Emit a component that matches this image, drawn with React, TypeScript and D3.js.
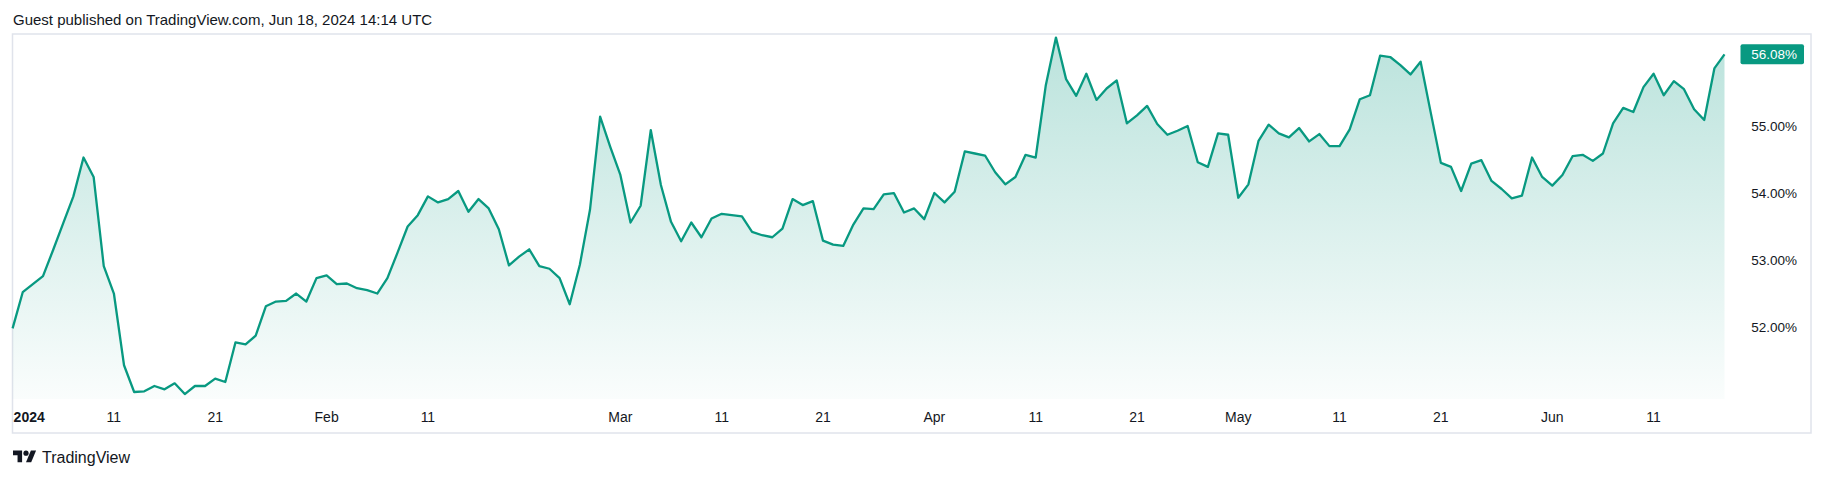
import * as d3 from "d3";
import { useEffect, useRef } from "react";

// daily values, Jan 1 2024 .. Jun 18 2024 (percent)
const janValues = [
    51.99, 52.53, 52.65, 52.77, 53.16, 53.56, 53.96, 54.54, 54.25, 52.92,
    52.51, 51.44, 51.04, 51.05, 51.13, 51.08, 51.17, 51.01, 51.13, 51.13,
    51.24, 51.19, 51.78, 51.75, 51.88, 52.32, 52.39, 52.40, 52.51, 52.39,
    52.74,
];
const febValues = [
    52.78, 52.65, 52.66, 52.59, 52.56, 52.51, 52.74, 53.12, 53.51, 53.68,
    53.96, 53.87, 53.92, 54.04, 53.73, 53.92, 53.78, 53.47, 52.93, 53.06,
    53.17, 52.92, 52.88, 52.74, 52.35, 52.94, 53.76, 55.15, 54.70,
];
const marValues = [
    54.28, 53.57, 53.82, 54.95, 54.13, 53.58, 53.29, 53.57, 53.35, 53.63,
    53.70, 53.68, 53.66, 53.43, 53.38, 53.35, 53.48, 53.92, 53.83, 53.89,
    53.30, 53.24, 53.22, 53.54, 53.78, 53.77, 53.99, 54.01, 53.72, 53.78,
    53.62,
];
const aprValues = [
    54.01, 53.87, 54.03, 54.63, 54.60, 54.57, 54.32, 54.14, 54.25, 54.58,
    54.54, 55.62, 56.33, 55.71, 55.46, 55.79, 55.40, 55.57, 55.69, 55.05,
    55.17, 55.31, 55.04, 54.88, 54.94, 55.01, 54.47, 54.40, 54.90, 54.88,
];
const mayValues = [
    53.94, 54.14, 54.79, 55.03, 54.90, 54.84, 54.98, 54.78, 54.89, 54.71,
    54.71, 54.96, 55.41, 55.47, 56.06, 56.04, 55.92, 55.78, 55.97, 55.21,
    54.46, 54.40, 54.04, 54.45, 54.50, 54.19, 54.07, 53.93, 53.97, 54.54,
    54.25,
];
const junValues = [
    54.12, 54.28, 54.56, 54.58, 54.49, 54.60, 55.05, 55.28, 55.22, 55.59,
    55.79, 55.47, 55.68, 55.56, 55.26, 55.10, 55.87, 56.08,
];

const startDate = "2024-01-01";
const yTicks = [52, 53, 54, 55];
const timeTicks: [string, string][] = [
    ["2024-01-01", "2024"],
    ["2024-01-11", "11"],
    ["2024-01-21", "21"],
    ["2024-02-01", "Feb"],
    ["2024-02-11", "11"],
    ["2024-03-01", "Mar"],
    ["2024-03-11", "11"],
    ["2024-03-21", "21"],
    ["2024-04-01", "Apr"],
    ["2024-04-11", "11"],
    ["2024-04-21", "21"],
    ["2024-05-01", "May"],
    ["2024-05-11", "11"],
    ["2024-05-21", "21"],
    ["2024-06-01", "Jun"],
    ["2024-06-11", "11"],
];
const title = "Guest published on TradingView.com, Jun 18, 2024 14:14 UTC";
const brand = "TradingView";

export default function App() {
    const svgRef = useRef<SVGSVGElement | null>(null);

    useEffect(() => {
        if (!svgRef.current) return;
        const svg = d3.select(svgRef.current);
        svg.selectAll("*").remove();

        const width = 1824;
        const height = 478;
        const font = "'Liberation Sans', Arial, sans-serif";
        const green = "#089981";
        const textColor = "#131722";

        const values = [...janValues, ...febValues, ...marValues, ...aprValues, ...mayValues, ...junValues];
        const start = new Date(startDate + "T00:00:00Z");
        const data = values.map((v, i) => ({ date: d3.utcDay.offset(start, i), value: v }));

        const paneTop = 35;
        const paneBottom = 399;

        const x = d3.scaleUtc()
            .domain(d3.extent(data, (d) => d.date) as [Date, Date])
            .range([12.6, 1724.5]);

        const y = d3.scaleLinear()
            .domain([51, 56])
            .range([394.7, 59.7]);

        svg.attr("width", width).attr("height", height)
            .style("position", "absolute").style("left", 0).style("top", 0)
            .style("background", "#ffffff");

        // gradient for the area
        const defs = svg.append("defs");
        const grad = defs.append("linearGradient")
            .attr("id", "areaFill")
            .attr("gradientUnits", "userSpaceOnUse")
            .attr("x1", 0).attr("x2", 0)
            .attr("y1", paneTop).attr("y2", paneBottom);
        grad.append("stop").attr("offset", 0).attr("stop-color", green).attr("stop-opacity", 0.28);
        grad.append("stop").attr("offset", 1).attr("stop-color", green).attr("stop-opacity", 0.02);

        // title
        svg.append("text")
            .attr("x", 13)
            .attr("y", 25)
            .attr("font-family", font)
            .attr("font-size", 15)
            .attr("fill", textColor)
            .text(title);

        // chart frame
        svg.append("rect")
            .attr("x", 12.5)
            .attr("y", 34)
            .attr("width", 1811 - 12.5)
            .attr("height", 433 - 34)
            .attr("fill", "none")
            .attr("stroke", "#e0e3eb")
            .attr("stroke-width", 1.5);

        const area = d3.area<{ date: Date; value: number }>()
            .x((d) => x(d.date))
            .y0(paneBottom)
            .y1((d) => y(d.value));

        const line = d3.line<{ date: Date; value: number }>()
            .x((d) => x(d.date))
            .y((d) => y(d.value));

        svg.append("path")
            .datum(data)
            .attr("fill", "url(#areaFill)")
            .attr("d", area);

        svg.append("path")
            .datum(data)
            .attr("fill", "none")
            .attr("stroke", green)
            .attr("stroke-width", 2.3)
            .attr("stroke-linejoin", "round")
            .attr("d", line);

        // price scale labels
        svg.append("g")
            .selectAll("text")
            .data(yTicks)
            .enter()
            .append("text")
            .attr("x", 1797)
            .attr("y", (d) => y(d))
            .attr("dy", "0.35em")
            .attr("text-anchor", "end")
            .attr("font-family", font)
            .attr("font-size", 13.5)
            .attr("fill", textColor)
            .text((d) => d3.format(".2f")(d) + "%");

        // last value label
        const last = data[data.length - 1];
        svg.append("rect")
            .attr("x", 1740.5)
            .attr("y", y(last.value) - 10)
            .attr("width", 63.5)
            .attr("height", 20)
            .attr("rx", 2)
            .attr("fill", green);
        svg.append("text")
            .attr("x", 1797)
            .attr("y", y(last.value))
            .attr("dy", "0.35em")
            .attr("text-anchor", "end")
            .attr("font-family", font)
            .attr("font-size", 13.5)
            .attr("fill", "#ffffff")
            .text(d3.format(".2f")(last.value) + "%");

        // time scale labels
        svg.append("g")
            .selectAll("text")
            .data(timeTicks)
            .enter()
            .append("text")
            .attr("x", (d, i) => (i === 0 ? x(new Date(d[0] + "T00:00:00Z")) + 1 : x(new Date(d[0] + "T00:00:00Z"))))
            .attr("y", 417)
            .attr("dy", "0.35em")
            .attr("text-anchor", (d, i) => (i === 0 ? "start" : "middle"))
            .attr("font-family", font)
            .attr("font-size", 14)
            .attr("font-weight", (d, i) => (i === 0 ? "bold" : "normal"))
            .attr("fill", textColor)
            .text((d) => d[1]);

        // TradingView mark
        svg.append("g")
            .attr("transform", "translate(13,448) scale(0.65)")
            .call((g) => {
                g.append("path").attr("d", "M14 22H7V11H0V4h14v18z").attr("fill", textColor);
                g.append("path").attr("d", "M28 22h-8l7.5-18h8L28 22z").attr("fill", textColor);
                g.append("circle").attr("cx", 20).attr("cy", 8).attr("r", 4).attr("fill", textColor);
            });

        svg.append("text")
            .attr("x", 42)
            .attr("y", 457)
            .attr("dy", "0.35em")
            .attr("font-family", font)
            .attr("font-size", 16)
            .attr("fill", textColor)
            .text(brand);
    }, []);

    return <svg ref={svgRef} />;
}
